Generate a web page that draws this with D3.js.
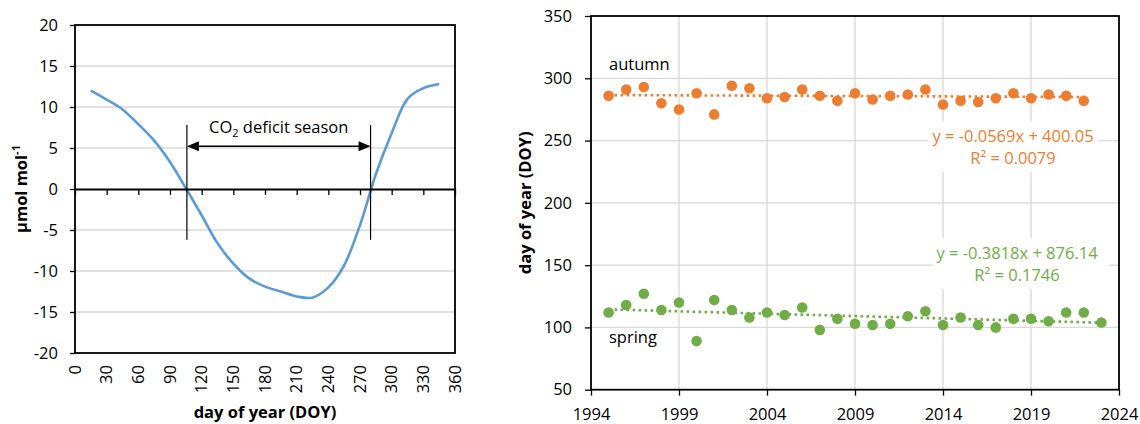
<!DOCTYPE html>
<html>
<head>
<meta charset="utf-8">
<script src="https://cdn.jsdelivr.net/npm/d3@7"></script>
<style>
  body { margin: 0; background: #fff; }
  svg { display: block; font-family: "Open Sans", sans-serif; }
</style>
</head>
<body>
<svg id="chart" width="1140" height="424"></svg>
<script>
// Left panel: mean seasonal cycle of CO2 (umol/mol) by day of year
var doy = [15, 30, 45, 60, 75, 90, 105, 120, 135, 150, 165, 180, 195, 210, 225, 240, 255, 270, 285, 300, 315, 330, 345];
var co2Anomaly = [12.0, 10.9, 9.7, 7.9, 5.9, 3.3, 0.1, -3.2, -6.6, -9.1, -10.9, -11.9, -12.5, -13.1, -13.25, -12.0, -9.3, -4.4, 1.8, 6.8, 11.0, 12.3, 12.8];
var deficitDays = [106, 280];
var leftYTicks = [-20, -15, -10, -5, 0, 5, 10, 15, 20];
var leftXTicks = [0, 30, 60, 90, 120, 150, 180, 210, 240, 270, 300, 330, 360];

// Right panel: start (spring) and end (autumn) of the deficit season
var autumnYears = [1995, 1996, 1997, 1998, 1999, 2000, 2001, 2002, 2003, 2004, 2005, 2006, 2007, 2008,
                   2009, 2010, 2011, 2012, 2013, 2014, 2015, 2016, 2017, 2018, 2019, 2020, 2021, 2022];
var autumnDoy = [286, 291, 293, 280, 275, 288, 271, 294, 292, 284, 285, 291, 286, 282,
                 288, 283, 286, 287, 291, 279, 282, 281, 284, 288, 284, 287, 286, 282];
var springYears = [1995, 1996, 1997, 1998, 1999, 2000, 2001, 2002, 2003, 2004, 2005, 2006, 2007, 2008,
                   2009, 2010, 2011, 2012, 2013, 2014, 2015, 2016, 2017, 2018, 2019, 2020, 2021, 2022, 2023];
var springDoy = [112, 118, 127, 114, 120, 89, 122, 114, 108, 112, 110, 116, 98, 107,
                 103, 102, 103, 109, 113, 102, 108, 102, 100, 107, 107, 105, 112, 112, 104];
var autumnFit = [-0.0569, 400.05];   // slope, intercept
var springFit = [-0.3818, 876.14];
var autumnEq = ["y = -0.0569x + 400.05", "R² = 0.0079"];
var springEq = ["y = -0.3818x + 876.14", "R² = 0.1746"];
var rightYTicks = [50, 100, 150, 200, 250, 300, 350];
var rightXTicks = [1994, 1999, 2004, 2009, 2014, 2019, 2024];

var FS = 16.5;
var GRID = "#d9d9d9";
var svg = d3.select("#chart");

function styleAxis(g) {
    g.select(".domain").remove();
    g.selectAll(".tick line").attr("stroke", "#000").attr("stroke-width", 1.3);
    g.selectAll(".tick text").attr("font-size", FS).attr("fill", "#000")
        .attr("font-family", "'Open Sans', sans-serif");
}

// ---------- left panel ----------
var xL = d3.scaleLinear().domain([0, 360]).range([75, 455]);
var yL = d3.scaleLinear().domain([-20, 20]).range([353, 25]);

svg.append("g").selectAll("line")
    .data(leftYTicks.filter(d => d !== 0 && Math.abs(d) !== 20))
    .join("line")
    .attr("x1", xL(0)).attr("x2", xL(360))
    .attr("y1", d => yL(d)).attr("y2", d => yL(d))
    .attr("stroke", GRID).attr("stroke-width", 1.3);

var curve = d3.line()
    .x(d => xL(d[0]))
    .y(d => yL(d[1]))
    .curve(d3.curveCatmullRom.alpha(0.5));

svg.append("path")
    .datum(d3.zip(doy, co2Anomaly))
    .attr("d", curve)
    .attr("fill", "none")
    .attr("stroke", "#5b9bd5")
    .attr("stroke-width", 2.6);

svg.append("rect")
    .attr("x", xL(0)).attr("y", yL(20))
    .attr("width", xL(360) - xL(0)).attr("height", yL(-20) - yL(20))
    .attr("fill", "none").attr("stroke", "#000").attr("stroke-width", 1.8);

// plain hyphen for negatives, like the original
svg.append("g")
    .attr("transform", `translate(${xL(0)},0)`)
    .call(d3.axisLeft(yL).tickValues(leftYTicks).tickSize(5).tickPadding(12).tickFormat(d => String(d)))
    .call(styleAxis);

// x axis crosses at zero
var zeroAxis = svg.append("g")
    .attr("transform", `translate(0,${yL(0)})`)
    .call(d3.axisBottom(xL).tickValues(leftXTicks).tickSize(6).tickSizeOuter(0).tickFormat(""));
zeroAxis.select(".domain").attr("stroke", "#000").attr("stroke-width", 1.8);
zeroAxis.selectAll(".tick line").attr("stroke", "#000").attr("stroke-width", 1.3);

// rotated labels under the plot
svg.append("g").selectAll("text")
    .data(leftXTicks)
    .join("text")
    .attr("transform", d => `translate(${xL(d)},${yL(-20) + 12}) rotate(-90)`)
    .attr("dy", "0.35em")
    .attr("text-anchor", "end")
    .attr("font-size", FS)
    .text(d => d);

// CO2 deficit season markers
svg.append("g").selectAll("line")
    .data(deficitDays)
    .join("line")
    .attr("x1", d => xL(d)).attr("x2", d => xL(d))
    .attr("y1", yL(7.8)).attr("y2", yL(-6.2))
    .attr("stroke", "#000").attr("stroke-width", 1.2);

var ay = yL(5.2), ax0 = xL(deficitDays[0]), ax1 = xL(deficitDays[1]);
svg.append("line")
    .attr("x1", ax0 + 10).attr("x2", ax1 - 10)
    .attr("y1", ay).attr("y2", ay)
    .attr("stroke", "#000").attr("stroke-width", 1.5);
svg.append("path")
    .attr("d", `M${ax0},${ay}L${ax0 + 12},${ay - 5}L${ax0 + 12},${ay + 5}Z`)
    .attr("fill", "#000");
svg.append("path")
    .attr("d", `M${ax1},${ay}L${ax1 - 12},${ay - 5}L${ax1 - 12},${ay + 5}Z`)
    .attr("fill", "#000");

var co2Label = svg.append("text")
    .attr("x", (ax0 + ax1) / 2).attr("y", 133)
    .attr("text-anchor", "middle").attr("font-size", FS);
co2Label.append("tspan").text("CO");
co2Label.append("tspan").attr("font-size", 11).attr("dy", 4).text("2");
co2Label.append("tspan").attr("dy", -4).text(" deficit season");

// axis titles
var yTitleL = svg.append("text")
    .attr("transform", `translate(27,${yL(0)}) rotate(-90)`)
    .attr("text-anchor", "middle").attr("font-size", FS).attr("font-weight", "bold");
yTitleL.append("tspan").text("µmol mol");
yTitleL.append("tspan").attr("font-size", 11).attr("dy", -7).text("-1");

svg.append("text")
    .attr("x", (xL(0) + xL(360)) / 2).attr("y", 418)
    .attr("text-anchor", "middle").attr("font-size", FS).attr("font-weight", "bold")
    .text("day of year (DOY)");

// ---------- right panel ----------
var xR = d3.scaleLinear().domain([1994, 2024]).range([591, 1119]);
var yR = d3.scaleLinear().domain([50, 350]).range([389.7, 16]);

svg.append("g").selectAll("line")
    .data(rightYTicks.slice(1, -1))
    .join("line")
    .attr("x1", xR(1994)).attr("x2", xR(2024))
    .attr("y1", d => yR(d)).attr("y2", d => yR(d))
    .attr("stroke", GRID).attr("stroke-width", 1.3);
svg.append("g").selectAll("line")
    .data(rightXTicks.slice(1, -1))
    .join("line")
    .attr("y1", yR(50)).attr("y2", yR(350))
    .attr("x1", d => xR(d)).attr("x2", d => xR(d))
    .attr("stroke", GRID).attr("stroke-width", 1.3);

// white boxes behind the fit equations
svg.append("rect").attr("x", 928).attr("y", 121).attr("width", 170).attr("height", 51).attr("fill", "#fff");
svg.append("rect").attr("x", 933).attr("y", 238).attr("width", 176).attr("height", 51).attr("fill", "#fff");

function drawSeries(years, values, fit, color) {
    var first = years[0], last = years[years.length - 1];
    svg.append("line")
        .attr("x1", xR(first)).attr("x2", xR(last))
        .attr("y1", yR(fit[0] * first + fit[1]))
        .attr("y2", yR(fit[0] * last + fit[1]))
        .attr("stroke", color).attr("stroke-width", 2.6)
        .attr("stroke-dasharray", "2.6 3.4");
    svg.append("g").selectAll("circle")
        .data(d3.zip(years, values))
        .join("circle")
        .attr("cx", d => xR(d[0]))
        .attr("cy", d => yR(d[1]))
        .attr("r", 5.3)
        .attr("fill", color);
}
drawSeries(autumnYears, autumnDoy, autumnFit, "#ed7d31");
drawSeries(springYears, springDoy, springFit, "#70ad47");

svg.append("rect")
    .attr("x", xR(1994)).attr("y", yR(350))
    .attr("width", xR(2024) - xR(1994)).attr("height", yR(50) - yR(350))
    .attr("fill", "none").attr("stroke", "#000").attr("stroke-width", 1.8);

svg.append("g")
    .attr("transform", `translate(${xR(1994)},0)`)
    .call(d3.axisLeft(yR).tickValues(rightYTicks).tickSize(6).tickPadding(13).tickFormat(d => String(d)))
    .call(styleAxis);
svg.append("g")
    .attr("transform", `translate(0,${yR(50)})`)
    .call(d3.axisBottom(xR).tickValues(rightXTicks).tickSize(6).tickPadding(13).tickFormat(d => String(d)))
    .call(styleAxis);

// series names and fit equations
svg.append("text").attr("x", 609).attr("y", 70).attr("font-size", FS).text("autumn");
svg.append("text").attr("x", 609).attr("y", 343).attr("font-size", FS).text("spring");

svg.append("g").selectAll("text")
    .data(autumnEq)
    .join("text")
    .attr("x", 1013).attr("y", (d, i) => 141.5 + i * 22)
    .attr("text-anchor", "middle").attr("font-size", FS).attr("fill", "#ed7d31")
    .text(d => d);
svg.append("g").selectAll("text")
    .data(springEq)
    .join("text")
    .attr("x", 1017).attr("y", (d, i) => 259 + i * 22)
    .attr("text-anchor", "middle").attr("font-size", FS).attr("fill", "#70ad47")
    .text(d => d);

svg.append("text")
    .attr("transform", `translate(531,${(yR(50) + yR(350)) / 2}) rotate(-90)`)
    .attr("text-anchor", "middle").attr("font-size", FS).attr("font-weight", "bold")
    .text("day of year (DOY)");
</script>
</body>
</html>
